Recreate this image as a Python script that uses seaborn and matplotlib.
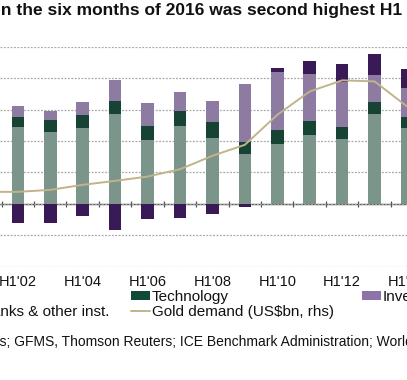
import numpy as np
import pandas as pd
import matplotlib
matplotlib.use("Agg")
import matplotlib.pyplot as plt
import seaborn as sns
from matplotlib.patches import Patch
from matplotlib.lines import Line2D

# ---------------- data ----------------
bar_years = [2002, 2003, 2004, 2005, 2006, 2007, 2008, 2009, 2010, 2011, 2012, 2013, 2014]
jewellery = [1220, 1145, 1210, 1430, 1020, 1240, 1045, 795, 950, 1100, 1030, 1435, 1215]
technology = [170, 195, 205, 210, 225, 240, 250, 195, 230, 225, 200, 185, 165]
investment = [170, 145, 200, 335, 360, 300, 335, 920, 910, 745, 715, 425, 470]
central_banks = [-305, -305, -200, -415, -240, -220, -160, -55, 70, 195, 285, 335, 300]

line_years = [2001, 2002, 2003, 2004, 2005, 2006, 2007, 2008, 2009, 2010, 2011, 2012, 2013, 2014]
gold_demand_usd = [11.5, 11.5, 13.4, 18.2, 22.0, 26.1, 33.1, 45.9, 56.4, 85.0, 107.3, 117.9, 116.9, 93.0]

tick_years = [2002, 2004, 2006, 2008, 2010, 2012, 2014]
tick_labels = ["H1'02", "H1'04", "H1'06", "H1'08", "H1'10", "H1'12", "H1'14"]

series_names = ["Jewellery", "Technology", "Investment",
                "Central banks & other inst.", "Gold demand (US$bn, rhs)"]

title_text = "Gold demand in the six months of 2016 was second highest H1 on record"
source_text = ("Source: Metals Focus; GFMS, Thomson Reuters; ICE Benchmark Administration; "
               "World Gold Council")

# ---------------- style ----------------
C_JEW = "#769a8b"
C_TECH = "#0f4a35"
C_INV = "#8d74a8"
C_CB = "#3b1060"
C_LINE = "#c0b48c"
GRID = "#a8a8a8"
AXIS = "#555555"

sns.set_theme(style="white")
plt.rcParams["font.family"] = ["Liberation Sans", "DejaVu Sans"]

df = pd.DataFrame({
    "year": bar_years,
    "jewellery": jewellery,
    "technology": technology,
    "investment": investment,
    "central_banks": central_banks,
})
df["b_tech"] = df["jewellery"]
df["b_inv"] = df["jewellery"] + df["technology"]
df["b_cb"] = np.where(df["central_banks"] > 0,
                      df["jewellery"] + df["technology"] + df["investment"], 0)

line_df = pd.DataFrame({"year": line_years, "usd": gold_demand_usd})

W, H = 407, 380
fig = plt.figure(figsize=(W / 100, H / 100), dpi=100)
ax = fig.add_axes([0, (H - 266.8) / H, 1, (266.8 - 46.7) / H])

bw = 0.39
common = dict(native_scale=True, width=bw, errorbar=None, linewidth=0, ax=ax, zorder=2)
sns.barplot(data=df, x="year", y="jewellery", color=C_JEW, **common)
sns.barplot(data=df, x="year", y="technology", bottom=df["b_tech"], color=C_TECH, **common)
sns.barplot(data=df, x="year", y="investment", bottom=df["b_inv"], color=C_INV, **common)
sns.barplot(data=df, x="year", y="central_banks", bottom=df["b_cb"], color=C_CB, **common)

ax.set_ylim(-1000, 2500)
ax.set_yticks(np.arange(-1000, 2501, 500))
ax.set_xlim(2002 - 18 / 32.73, 2002 + (W - 18) / 32.73)
ax.set_axisbelow(True)
ax.yaxis.grid(True, color=GRID, linestyle=(0, (1.5, 1.2)), linewidth=0.9)
ax.xaxis.grid(False)
for s in ax.spines.values():
    s.set_visible(False)
ax.set_xticks(tick_years)
ax.set_xticklabels(tick_labels)
ax.tick_params(axis="x", length=0, pad=6, labelsize=10.5, colors="#111111")
ax.tick_params(axis="y", length=0, labelleft=False)
ax.set_xlabel("")
ax.set_ylabel("")

# zero line with category-boundary tick marks
sec = ax.secondary_xaxis(1000 / 3500)
sec.set_xticks([y - 0.5 for y in bar_years] + [bar_years[-1] + 0.5])
sec.tick_params(axis="x", direction="inout", length=5, width=0.9, color=AXIS, labelbottom=False)
for k, s in sec.spines.items():
    s.set_visible(k == "bottom")
sec.spines["bottom"].set_color(AXIS)
sec.spines["bottom"].set_linewidth(1.0)

# gold demand line (right axis)
ax2 = ax.twinx()
sns.lineplot(data=line_df, x="year", y="usd", color=C_LINE, linewidth=1.4, ax=ax2)
ax2.set_ylim(-60, 150)
ax2.set_xlim(ax.get_xlim())
for s in ax2.spines.values():
    s.set_visible(False)
ax2.tick_params(axis="y", length=0, labelright=False)
ax2.set_ylabel("")
ax2.grid(False)

fig.canvas.draw()
renderer = fig.canvas.get_renderer()


def text_width(s, **kw):
    t = fig.text(0, 0, s, **kw)
    w = t.get_window_extent(renderer=renderer).width
    t.remove()
    return w


# title (cropped on both sides in the reference)
tkw = dict(fontsize=12.5, fontweight="bold", color="#111111")
pre = text_width("Gold demand i", **tkw)
fig.text((0.5 - pre) / W, 1 - 11 / H, title_text, va="center", ha="left", **tkw)

# source line
skw = dict(fontsize=10, color="#111111")
pre = text_width("Source: Metals Focu", **skw)
fig.text((0 - pre) / W, 1 - 341.7 / H, source_text, va="center", ha="left", **skw)

# legend entries (Excel style grid, cropped)
LFS = 11
fs_px = LFS * 100 / 72
hl = 19 / fs_px
htp = 2 / fs_px
handles = [
    Patch(facecolor=C_JEW, edgecolor="none"),
    Patch(facecolor=C_TECH, edgecolor="none"),
    Patch(facecolor=C_INV, edgecolor="none"),
    Patch(facecolor=C_CB, edgecolor="none"),
    Line2D([0], [0], color=C_LINE, linewidth=1.4),
]
pre = text_width("Central ba", fontsize=LFS)
col_x = [-(pre + 21), 131, 362]
row_y = [297, 311.7]
slots = [(0, 0), (1, 0), (2, 0), (0, 1), (1, 1)]
for h, name, (c, r) in zip(handles, series_names, slots):
    fig.legend(handles=[h], labels=[name], loc="center left",
               bbox_to_anchor=(col_x[c] / W, 1 - row_y[r] / H),
               frameon=False, borderpad=0, borderaxespad=0,
               handlelength=hl, handletextpad=htp, handleheight=0.45,
               fontsize=LFS, labelcolor="#111111")

fig.savefig("out.png", dpi=100)
